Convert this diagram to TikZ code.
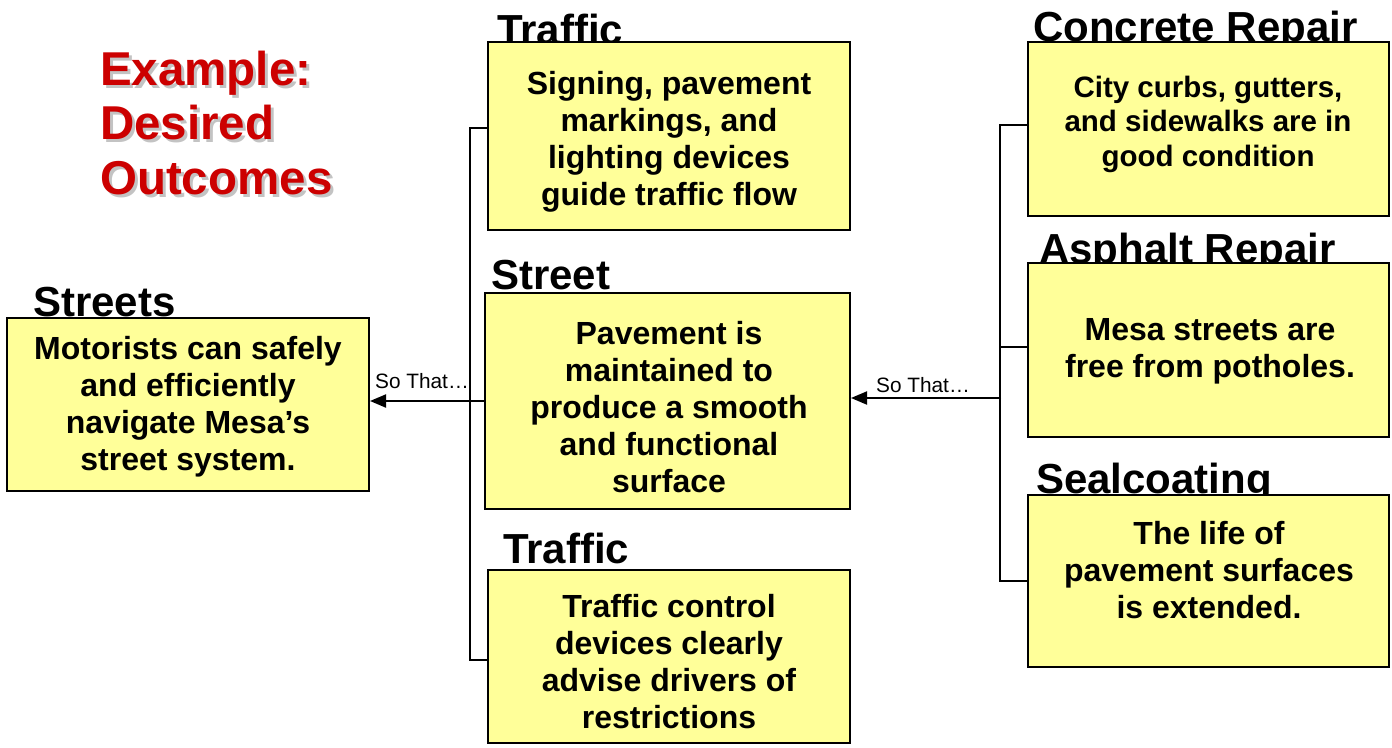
\documentclass[tikz,border=0pt]{standalone}
\usepackage{fontspec}
\setmainfont{Liberation Sans}
\usetikzlibrary{arrows.meta,calc}
\definecolor{boxfill}{RGB}{255,255,153}
\definecolor{titlered}{RGB}{204,0,0}
\definecolor{shadowgray}{RGB}{195,195,195}
\tikzset{
  box/.style={draw=black, line width=2pt, fill=boxfill, rectangle, inner sep=0pt},
  boxtext/.style={align=center, font=\fontsize{32}{37}\selectfont\bfseries, inner sep=0pt},
  smalltext/.style={align=center, font=\fontsize{29.5}{34.5}\selectfont\bfseries, inner sep=0pt},
  heading/.style={anchor=base west, font=\fontsize{42}{48}\selectfont\bfseries, inner sep=0pt},
  conn/.style={draw=black, line width=2pt},
  arr/.style={conn, -{Triangle[length=16pt,width=13pt]}},
  sothat/.style={anchor=base west, font=\fontsize{20.8}{24}\selectfont, inner sep=0pt},
  titletext/.style={anchor=base west, font=\fontsize{47.5}{54}\selectfont\bfseries, inner sep=0pt}
}
\begin{document}
\begin{tikzpicture}[x=1pt,y=-1pt]
\useasboundingbox (0,0) rectangle (1392,747);

% Title with shadow
\foreach \t/\yy in {Example:/85, Desired/139, Outcomes/194}{
  \node[titletext, text=shadowgray] at (103,\yy+3) {\t};
  \node[titletext, text=titlered] at (100,\yy) {\t};
}

% Headings (drawn before the boxes so the boxes cover their feet)
\node[heading] (hstreets) at (33,316) {Streets};
\node[heading] (htraf1) at (497,44) {Traffic};
\node[heading] (hstreet) at (491,289) {Street};
\node[heading] (htraf2) at (503,563) {Traffic};
\node[heading] (hconc) at (1033,41) {Concrete Repair};
\node[heading] (hasph) at (1039,263) {Asphalt Repair};
\node[heading] (hseal) at (1036,493) {Sealcoating};

% Boxes
\node[box, minimum width=362pt, minimum height=173pt] (streets) at (188,404.5) {};
\node[box, minimum width=362pt, minimum height=188pt] (trafT) at (669,136) {};
\node[box, minimum width=365pt, minimum height=216pt] (street) at (667.5,401) {};
\node[box, minimum width=362pt, minimum height=173pt] (trafB) at (669,656.5) {};
\node[box, minimum width=361pt, minimum height=174pt] (conc) at (1208.5,129) {};
\node[box, minimum width=361pt, minimum height=174pt] (asph) at (1208.5,350) {};
\node[box, minimum width=361pt, minimum height=172pt] (seal) at (1208.5,581) {};

% Box texts
\node[boxtext] (tstreets) at (188,407) {Motorists can safely\\and efficiently\\navigate Mesa’s\\street system.};
\node[boxtext] (ttrafT) at (669,141.5) {Signing, pavement\\markings, and\\lighting devices\\guide traffic flow};
\node[boxtext] (tstreet) at (669,407.5) {Pavement is\\maintained to\\produce a smooth\\and functional\\surface};
\node[boxtext] (ttrafB) at (669,661.5) {Traffic control\\devices clearly\\advise drivers of\\restrictions};
\node[smalltext] (tconc) at (1208,124) {City curbs, gutters,\\and sidewalks are in\\good condition};
\node[boxtext] (tasph) at (1210,351) {Mesa streets are\\free from potholes.};
\node[boxtext] (tseal) at (1209,570.5) {The life of\\pavement surfaces\\is extended.};

% Left connectors
\draw[conn] ([yshift=8pt]trafT.west) -- ++(-17,0) coordinate (lt) |- ([yshift=-3.5pt]trafB.west);
\draw[arr] (street.west) -- (street.west -| streets.east);
\node[sothat] (so1) at (375,388) {So That…};

% Right connectors
\draw[conn] ([yshift=4pt]conc.west) -- ++(-27,0) coordinate (rt) |- (seal.west);
\draw[conn] ([yshift=3pt]asph.west) -- (rt |- 0,347);
\coordinate (rj) at (1001,398);
\draw[arr] (rj) -- (rj -| street.east);
\node[sothat] (so2) at (876,392) {So That…};
\end{tikzpicture}
\end{document}
